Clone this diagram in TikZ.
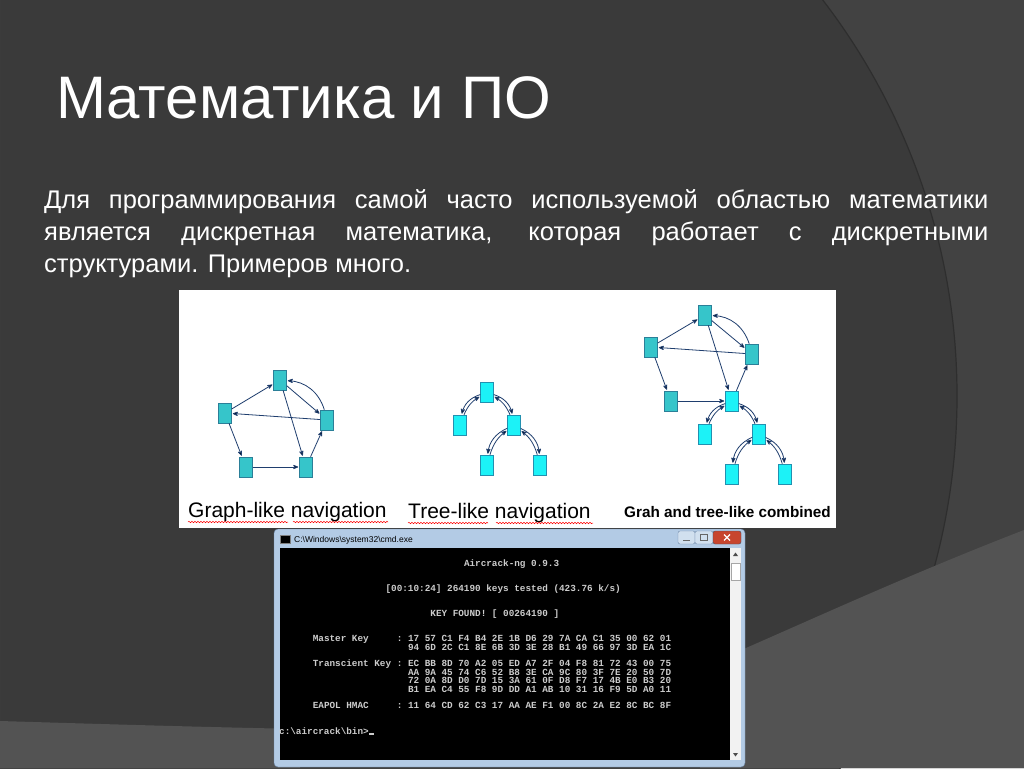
\documentclass[tikz,border=0pt]{standalone}
\usepackage{fontspec}
\setmainfont{Liberation Sans}
\setmonofont{Liberation Mono}
\usetikzlibrary{arrows,decorations.pathmorphing}

\definecolor{slide}{HTML}{3A3A3A}
\definecolor{slidearc}{HTML}{424242}
\definecolor{slidefloor}{HTML}{535353}
\definecolor{tealbox}{HTML}{36C5CA}
\definecolor{tealline}{HTML}{2B7F98}
\definecolor{cyanbox}{HTML}{1CF2F7}
\definecolor{cyanline}{HTML}{2290B0}
\definecolor{arrowblue}{HTML}{1F3E6E}
\definecolor{winframe}{HTML}{B3CBE5}
\definecolor{winedge}{HTML}{6E88A8}
\definecolor{conshell}{HTML}{CCCCCC}
\definecolor{closered}{HTML}{C7452E}

\begin{document}
\begin{tikzpicture}[x=1pt,y=-1pt,>=stealth',
    page/.style={rectangle,draw=tealline,fill=tealbox,line width=0.6pt,
                 minimum width=13pt,minimum height=20pt,inner sep=0pt},
    leaf/.style={page,draw=cyanline,fill=cyanbox},
    link/.style={draw=arrowblue,->,shorten >=1pt,line width=0.8pt},
    caption/.style={font=\fontsize{21}{21}\selectfont,text=black,inner sep=0pt,anchor=base west},
    spell/.style={draw=red,line width=0.5pt,decorate,
                  decoration={snake,amplitude=0.7pt,segment length=3pt}},
    con/.style={font=\fontsize{9.33}{9.33}\selectfont\ttfamily\bfseries,text=conshell,
                inner sep=0pt,anchor=base west},
    body/.style={font=\fontsize{25.5}{25.5}\selectfont,text=white,inner sep=0pt,anchor=base west}]

  % slide background
  \useasboundingbox (0,0) rectangle (1024,768);
  \fill[slide] (0,0) rectangle (1024,768);
  \fill[slidearc,even odd rule] (0,0) rectangle (1024,768) (306,396) circle[radius=651];
  \draw[black!20!slide,line width=1.2pt] (306,396) circle[radius=651];
  \fill[slidefloor] (700,668) .. controls (800,625) and (900,578) .. (1024,530)
        -- (1024,768) -- (700,768) -- cycle;
  \fill[slidefloor] (0,721) .. controls (100,724) and (200,727) .. (300,729)
        -- (300,768) -- (0,768) -- cycle;

  \node[font=\fontsize{60}{60}\selectfont,text=white,inner sep=0pt,anchor=base west]
        (title) at (56,118) {Математика и ПО};

  \node[body] (line1) at (44,208) {\makebox[944pt][s]{Для программирования самой часто используемой областью математики}};
  \node[body] (line2) at (44,240) {\makebox[944pt][s]{является дискретная математика, которая работает с дискретными}};
  \node[body] (line3) at (44,272) {структурами. Примеров много.};

  % picture with the three navigations
  \fill[white] (179,290) rectangle (836,528);

  \node[page] (g1top)   at (280,380) {};
  \node[page] (g1left)  at (225,413) {};
  \node[page] (g1right) at (327,420) {};
  \node[page] (g1bl)    at (246,467) {};
  \node[page] (g1br)    at (306,467) {};

  \path[link] (g1right) edge (g1left)
              (g1left) edge (g1top) edge (g1bl)
              (g1top) edge (g1right) edge (g1br)
              (g1right) edge[bend right=35] (g1top)
              (g1bl) edge (g1br)
              (g1br) edge (g1right);

  \node[leaf] (t0) at (487,392) {};
  \node[leaf] (t1) at (460,425) {};
  \node[leaf] (t2) at (514,425) {};
  \node[leaf] (t3) at (487,465) {};
  \node[leaf] (t4) at (540,465) {};

  \path[link] (t0) edge[bend right=30] (t1) (t1) edge[bend left=18] (t0)
              (t0) edge[bend left=30] (t2)  (t2) edge[bend right=18] (t0)
              (t2) edge[bend right=30] (t3) (t3) edge[bend left=18] (t2)
              (t2) edge[bend left=30] (t4)  (t4) edge[bend right=18] (t2);

  \node[page] (c0) at (705,315) {};
  \node[page] (c1) at (651,347) {};
  \node[page] (c2) at (752,354) {};
  \node[page] (c3) at (671,401) {};
  \node[leaf] (c4) at (732,401) {};
  \node[leaf] (c5) at (705,434) {};
  \node[leaf] (c6) at (759,434) {};
  \node[leaf] (c7) at (732,474) {};
  \node[leaf] (c8) at (785,474) {};

  \path[link] (c2) edge (c1)
              (c1) edge (c0) edge (c3)
              (c0) edge (c2) edge (c4)
              (c2) edge[bend right=35] (c0)
              (c3) edge (c4)
              (c4) edge (c2);
  \path[link] (c4) edge[bend right=30] (c5) (c5) edge[bend left=18] (c4)
              (c4) edge[bend left=30] (c6)  (c6) edge[bend right=18] (c4)
              (c6) edge[bend right=30] (c7) (c7) edge[bend left=18] (c6)
              (c6) edge[bend left=30] (c8)  (c8) edge[bend right=18] (c6);

  \node[caption] (graphcap) at (188,517) {Graph-like navigation};
  \node[caption] (treecap) at (408,518) {Tree-like navigation};
  \node[caption,font=\fontsize{15.3}{15.3}\selectfont\bfseries] (bothcap) at (624,517) {Grah and tree-like combined};
  \draw[spell] (188,522) -- (288,522);
  \draw[spell] (293,522) -- (388,522);
  \draw[spell] (408,523) -- (488,523);
  \draw[spell] (496,523) -- (593,523);

  % console window
  \fill[winframe,draw=winedge,rounded corners=4pt] (274,529) rectangle (745,767);
  \fill[black,draw=gray] (280,535) rectangle (290,543);
  \node[inner sep=0pt,anchor=west,font=\fontsize{8.5}{8.5}\selectfont] (wintitle) at (294,540)
        {C:\textbackslash Windows\textbackslash system32\textbackslash cmd.exe};
  \draw[winedge,fill=winframe!60!white,rounded corners=2pt] (678,531) rectangle (695,544);
  \draw[winedge,fill=winframe!60!white,rounded corners=2pt] (695,531) rectangle (713,544);
  \draw[winedge!60!black,fill=closered,rounded corners=2pt] (713,531) rectangle (741,544);
  \draw[black!60,line width=1.2pt] (683,540.5) -- (690,540.5);
  \draw[black!60,line width=0.8pt] (700.5,534.5) rectangle (707.5,540.5);
  \draw[white,line width=1.3pt] (724,534.5) -- (730,540.5) (724,540.5) -- (730,534.5);

  \fill[black] (280,548) rectangle (730,760);
  \fill[gray!10] (730,548) rectangle (741,760);
  \fill[black!70] (733,556) -- (738,556) -- (735.5,552.5) -- cycle;
  \draw[gray!70,fill=white] (731,563) rectangle (740,580);
  \fill[black!70] (733,753) -- (738,753) -- (735.5,756.5) -- cycle;

  \node[con] (crackver) at (463.8,566) {Aircrack-ng 0.9.3};
  \node[con] (crackrate) at (385.4,591.2) {[00:10:24] 264190 keys tested (423.76 k/s)};
  \node[con] (crackfound) at (430.2,616.4) {KEY FOUND! [ 00264190 ]};
  \node[con] (mklabel) at (312.6,641.6) {Master Key};
  \node[con] (mkcolon) at (396.6,641.6) {:};
  \node[con] (mkrow1) at (407.8,641.6) {17 57 C1 F4 B4 2E 1B D6 29 7A CA C1 35 00 62 01};
  \node[con] (mkrow2) at (407.8,650) {94 6D 2C C1 8E 6B 3D 3E 28 B1 49 66 97 3D EA 1C};
  \node[con] (tklabel) at (312.6,666.8) {Transcient Key};
  \node[con] (tkcolon) at (396.6,666.8) {:};
  \node[con] (tkrow1) at (407.8,666.8) {EC BB 8D 70 A2 05 ED A7 2F 04 F8 81 72 43 00 75};
  \node[con] (tkrow2) at (407.8,675.2) {AA 9A 45 74 C6 52 B8 3E CA 9C 80 3F 7E 20 50 7D};
  \node[con] (tkrow3) at (407.8,683.6) {72 0A 8D D0 7D 15 3A 61 0F D8 F7 17 4B E0 B3 20};
  \node[con] (tkrow4) at (407.8,692) {B1 EA C4 55 F8 9D DD A1 AB 10 31 16 F9 5D A0 11};
  \node[con] (eaplabel) at (312.6,708.8) {EAPOL HMAC};
  \node[con] (eapcolon) at (396.6,708.8) {:};
  \node[con] (eaprow) at (407.8,708.8) {11 64 CD 62 C3 17 AA AE F1 00 8C 2A E2 8C BC 8F};
  \node[con] (prompt) at (279,734) {c:\textbackslash aircrack\textbackslash bin>};
  \fill[conshell] (368.6,732.5) rectangle (374,735);

\end{tikzpicture}
\end{document}
